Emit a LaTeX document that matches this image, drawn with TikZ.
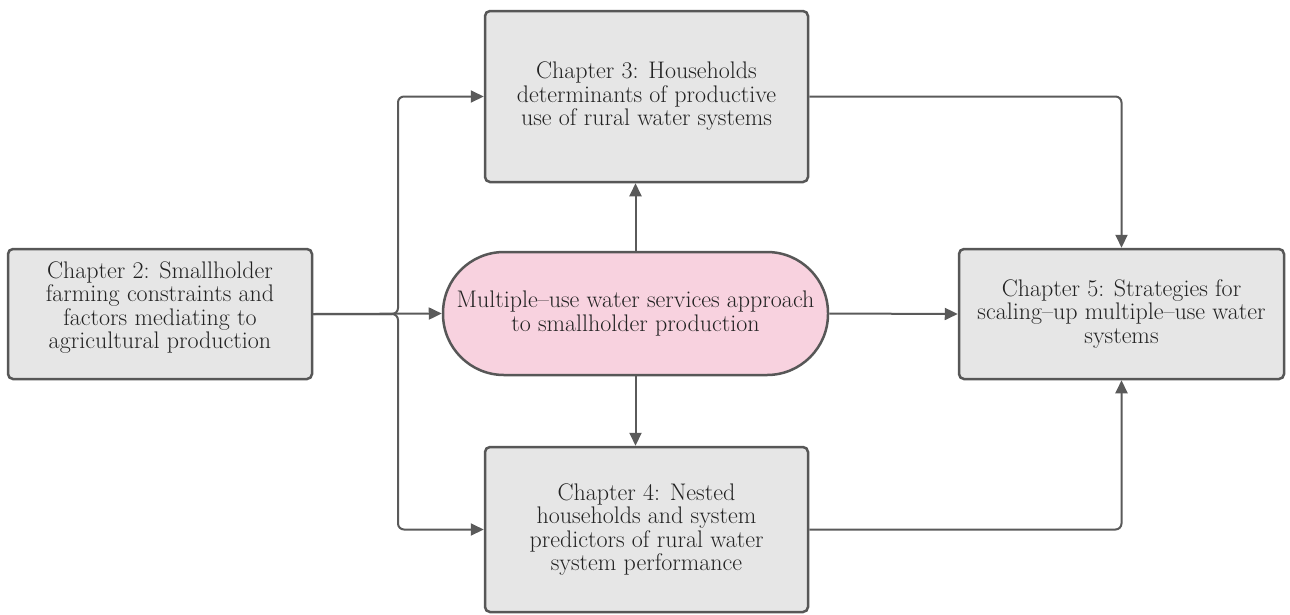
\documentclass[tikz,border=0pt]{standalone}
\usetikzlibrary{arrows.meta}
\definecolor{linegray}{HTML}{5A5A5A}
\definecolor{boxgray}{HTML}{E6E6E6}
\definecolor{boxedge}{HTML}{575757}
\definecolor{pinkfill}{HTML}{F8D2DF}
\definecolor{textgray}{HTML}{222222}
\begin{document}
\begin{tikzpicture}[x=1pt,y=-1pt,
  chapbox/.style={draw=boxedge, fill=boxgray, line width=2.5pt, rounded corners=5pt,
    align=center, inner sep=0pt, text=textgray, font=\fontsize{24}{23.5}\selectfont},
  hubshape/.style={draw=boxedge, fill=pinkfill, line width=2.5pt, rounded corners=61pt,
    align=center, inner sep=0pt, text=textgray, font=\fontsize{24}{23.5}\selectfont},
  link/.style={draw=linegray, line width=2pt, rounded corners=6pt,
    -{Triangle[length=13pt,width=12pt]}}
]
\useasboundingbox (0,0) rectangle (1290,614);

% chapter boxes
\node[chapbox, minimum width=304, minimum height=130] (ch2) at (160,314)
  {Chapter 2: Smallholder\\farming constraints and\\factors mediating to\\agricultural production\\[-6pt]};
\node[chapbox, minimum width=323, minimum height=171] (ch3) at (646.5,96.5)
  {Chapter 3: Households\\determinants of productive\\use of rural water systems};
\node[chapbox, minimum width=323, minimum height=165] (ch4) at (646.5,529.5)
  {Chapter 4: Nested\\households and system\\predictors of rural water\\system performance};
\node[chapbox, minimum width=325, minimum height=130] (ch5) at (1121.5,314)
  {Chapter 5: Strategies for\\scaling--up multiple--use water\\systems};

% central approach
\node[hubshape, minimum width=385, minimum height=123] (hub) at (635.5,313.5)
  {Multiple--use water services approach\\to smallholder production};

% branching point next to chapter 2
\coordinate (split) at (398,314);

% connectors
\draw[link] (ch2.east) -- (hub.west);
\draw[link] (ch2.east) -- (split) |- (ch3.west);
\draw[link] (ch2.east) -- (split) |- (ch4.west);
\draw[link] (hub.north) -- (hub.north |- ch3.south);
\draw[link] (hub.south) -- (hub.south |- ch4.north);
\draw[link] (hub.east) -- (ch5.west);
\draw[link] (ch3.east) -| (ch5.north);
\draw[link] (ch4.east) -| (ch5.south);
\end{tikzpicture}
\end{document}
